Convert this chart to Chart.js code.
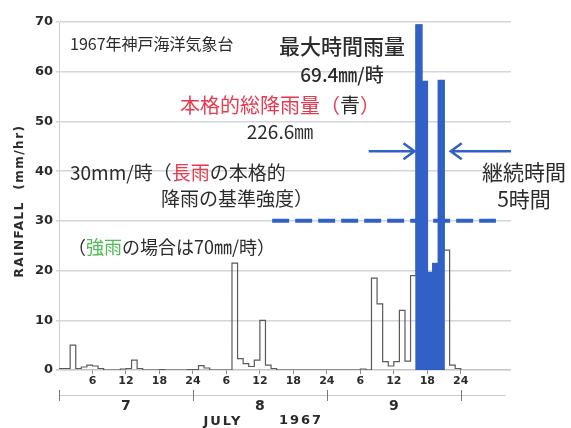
<!DOCTYPE html>
<html>
<head>
<meta charset="utf-8">
<script src="https://cdn.jsdelivr.net/npm/chart.js@4"></script>
<style>
  body { margin: 0; background: #fff; }
</style>
</head>
<body>
<canvas id="rainChart" width="571" height="428"></canvas>
<script>
// hourly rainfall at Kobe (mm/hr), 7-9 July 1967
const day7 = [0.3, 0.3, 5.0, 0.3, 0.6, 1.0, 0.8, 0.3, 0, 0, 0, 0.2, 0.3, 2.0, 0.3, 0, 0, 0, 0.1, 0, 0, 0, 0, 0.1];
const day8 = [0.1, 0.9, 0.4, 0, 0, 0, 0, 21.5, 2.3, 1.3, 0.7, 2.0, 10.0, 1.0, 0.3, 0, 0, 0, 0, 0, 0, 0, 0, 0];
const day9 = [0, 0, 0, 0, 0, 0, 0.2, 0, 18.5, 13.3, 1.7, 0.8, 1.7, 12.0, 1.8, 19.0, 69.4, 58.0, 19.6, 21.4, 58.2, 24.1, 1.0, 0.3];
const heavyHours = [64, 65, 66, 67, 68];   // the 5 hours painted blue
const thresholdRain = 30;                  // mm/hr reference line

const tickHours = [6, 12, 18, 24, 30, 36, 42, 48, 54, 60, 66, 72];
const tickLabels = ['6', '12', '18', '24', '6', '12', '18', '24', '6', '12', '18', '24'];
const days = ['7', '8', '9'];

const rainfall = [...day7, ...day8, ...day9];
const outlinePts = rainfall.map((v, h) => ({ x: h, y: v }));
outlinePts.push({ x: rainfall.length, y: 0 });
// bars sit in the middle of their hour
const heavyPts = heavyHours.map(h => ({ x: h + 0.5, y: rainfall[h] }));

const JP = '"Noto Sans CJK JP", sans-serif';
const BLUE = '#3160c6';
const RED = '#e8394f';
const GREEN = '#4fbb55';
const INK = '#2b2b2b';

// draw a line of text made of coloured pieces
function runs(ctx, parts, x, y, align) {
  let total = 0;
  parts.forEach(p => total += ctx.measureText(p[0]).width);
  let cx = align === 'center' ? x - total / 2 : x;
  ctx.textAlign = 'left';
  parts.forEach(p => {
    ctx.fillStyle = p[1];
    ctx.fillText(p[0], cx, y);
    cx += ctx.measureText(p[0]).width;
  });
}

function arrow(ctx, x1, x2, y) {
  const dir = Math.sign(x2 - x1);
  ctx.beginPath();
  ctx.moveTo(x1, y); ctx.lineTo(x2, y);
  ctx.moveTo(x2 - dir * 11, y - 8); ctx.lineTo(x2, y); ctx.lineTo(x2 - dir * 11, y + 8);
  ctx.stroke();
}

const notes = {
  id: 'notes',
  afterDatasetsDraw(chart) {
    const { ctx, scales: { x, y } } = chart;
    ctx.save();
    ctx.strokeStyle = BLUE;
    ctx.lineWidth = 4;
    ctx.setLineDash([17, 6]);
    ctx.beginPath();
    ctx.moveTo(x.getPixelForValue(38.2), y.getPixelForValue(thresholdRain));
    ctx.lineTo(x.getPixelForValue(78.3), y.getPixelForValue(thresholdRain));
    ctx.stroke();
    ctx.restore();
  },
  afterDraw(chart) {
    const { ctx, scales: { x, y } } = chart;
    ctx.save();

    // arrows showing the 5 hour span
    ctx.strokeStyle = BLUE;
    ctx.lineWidth = 2.5;
    const ay = y.getPixelForValue(44);
    arrow(ctx, x.getPixelForValue(55.5), x.getPixelForValue(63.7), ay);
    arrow(ctx, x.getPixelForValue(81), x.getPixelForValue(70.2), ay);

    // day row
    ctx.strokeStyle = '#c8c8c8';
    ctx.lineWidth = 1;
    ctx.beginPath();
    ctx.moveTo(x.getPixelForValue(0), 395.5);
    ctx.lineTo(x.getPixelForValue(80), 395.5);
    ctx.stroke();
    ctx.strokeStyle = '#777';
    [0, 24, 48, 72].forEach(h => {
      const px = Math.round(x.getPixelForValue(h)) + 0.5;
      ctx.beginPath(); ctx.moveTo(px, 390); ctx.lineTo(px, 401); ctx.stroke();
    });
    ctx.fillStyle = INK;
    ctx.textBaseline = 'middle';
    ctx.textAlign = 'center';
    ctx.font = 'bold 14px "DejaVu Sans"';
    days.forEach((d, i) => ctx.fillText(d, x.getPixelForValue(12 + 24 * i), 406));
    ctx.font = 'bold 13px "DejaVu Sans"';
    ctx.letterSpacing = '2px';
    ctx.fillText('JULY', 223, 422);
    ctx.fillText('1967', 301, 421);

    // y title
    ctx.save();
    ctx.translate(20, 201);
    ctx.rotate(-Math.PI / 2);
    ctx.font = 'bold 12px "DejaVu Sans"';
    ctx.letterSpacing = '1.5px';
    ctx.fillText('RAINFALL  (mm/hr)', 0, 0);
    ctx.restore();
    ctx.letterSpacing = '0px';

    // Japanese notes
    ctx.textAlign = 'left';
    ctx.font = '16px ' + JP;
    ctx.fillStyle = INK;
    ctx.fillText('1967年神戸海洋気象台', 70, 44);

    ctx.font = '500 21px ' + JP;
    runs(ctx, [['最大時間雨量', INK]], 342, 46, 'center');
    ctx.font = '500 19px ' + JP;
    runs(ctx, [['69.4㎜/時', INK]], 342, 75, 'center');

    ctx.font = '20px ' + JP;
    runs(ctx, [['本格的総降雨量（', RED], ['青', INK], ['）', RED]], 280, 105, 'center');
    ctx.font = '19px ' + JP;
    runs(ctx, [['226.6㎜', INK]], 280, 132, 'center');

    ctx.font = '19px ' + JP;
    runs(ctx, [['30mm/時（', INK], ['長雨', RED], ['の本格的', INK]], 70, 173, 'left');
    runs(ctx, [['降雨の基準強度）', INK]], 237, 199, 'center');
    ctx.font = '18px ' + JP;
    runs(ctx, [['（', INK], ['強雨', GREEN], ['の場合は70㎜/時）', INK]], 68, 247, 'left');

    ctx.font = '21px ' + JP;
    runs(ctx, [['継続時間', INK]], 524, 172, 'center');
    runs(ctx, [['5時間', INK]], 524, 199, 'center');

    ctx.restore();
  }
};

new Chart(document.getElementById('rainChart'), {
  type: 'line',
  data: {
    datasets: [
      {
        type: 'bar',
        data: heavyPts,
        backgroundColor: BLUE,
        borderColor: BLUE,
        borderWidth: 0,
        inflateAmount: 0.8,
        barPercentage: 1,
        categoryPercentage: 1,
        grouped: false,
        order: 1
      },
      {
        data: outlinePts,
        stepped: true,
        fill: false,
        borderColor: '#5a5a5a',
        borderWidth: 1.2,
        pointRadius: 0,
        order: 2
      }
    ]
  },
  options: {
    responsive: false,
    animation: false,
    layout: { padding: { top: 22, right: 60, bottom: 0, left: 0 } },
    plugins: { legend: { display: false }, tooltip: { enabled: false } },
    scales: {
      x: {
        type: 'linear',
        min: 0,
        max: 81,
        offset: false,
        afterBuildTicks: s => { s.ticks = tickHours.map(v => ({ value: v })); },
        afterFit: s => { s.height = 58; },
        grid: { drawOnChartArea: false, tickLength: 4, color: '#888', offset: false },
        border: { display: false },
        ticks: {
          padding: 1,
          color: INK,
          font: { family: 'DejaVu Sans', size: 11, weight: 'bold' },
          maxRotation: 0,
          autoSkip: false,
          callback: (v, i) => tickLabels[i]
        }
      },
      y: {
        min: 0,
        max: 70,
        afterFit: s => { s.width = 59; },
        grid: {
          color: c => c.tick.value === 0 ? '#c4c4c4' : '#d6d6d6',
          lineWidth: 1.5,
          tickLength: 3
        },
        border: { display: true, color: '#cfcfcf' },
        ticks: {
          stepSize: 10,
          padding: 3,
          color: INK,
          font: { family: 'DejaVu Sans', size: 13, weight: 'bold' }
        }
      }
    }
  },
  plugins: [notes]
});
</script>
</body>
</html>
